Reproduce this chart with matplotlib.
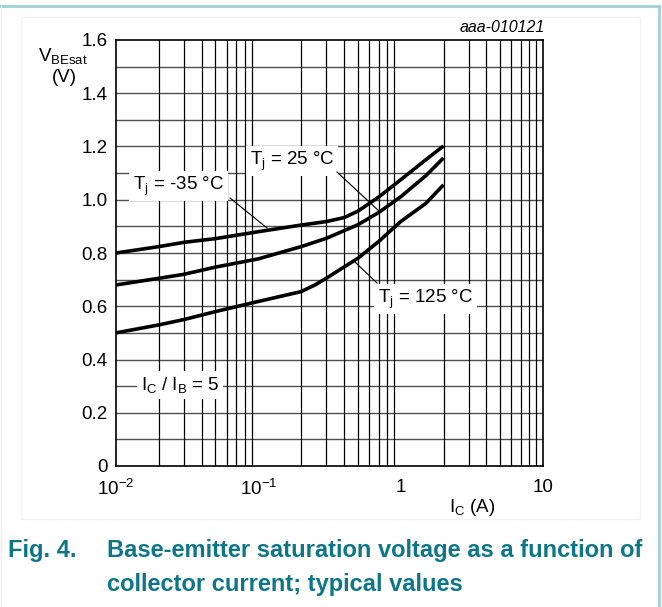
import numpy as np
import matplotlib
matplotlib.use("Agg")
import matplotlib.pyplot as plt
from matplotlib.patches import Rectangle
from matplotlib.ticker import NullFormatter

plt.rcParams['font.family'] = ['Liberation Sans', 'DejaVu Sans']
plt.rcParams['mathtext.fontset'] = 'custom'
plt.rcParams['mathtext.rm'] = 'Liberation Sans'
plt.rcParams['mathtext.it'] = 'Liberation Sans:italic'

# ---- data ----
ic_m35 = [0.01, 0.02, 0.03, 0.05, 0.1, 0.2, 0.3, 0.4, 0.5, 0.7, 1.0, 1.5, 2.0]
vbe_m35 = [0.80, 0.824, 0.84, 0.854, 0.88, 0.905, 0.918, 0.933, 0.957, 1.01, 1.075, 1.15, 1.202]

ic_25 = [0.01, 0.02, 0.03, 0.05, 0.1, 0.2, 0.3, 0.5, 0.7, 1.0, 1.5, 2.0]
vbe_25 = [0.68, 0.705, 0.72, 0.747, 0.778, 0.824, 0.855, 0.906, 0.952, 1.011, 1.09, 1.157]

ic_125 = [0.01, 0.02, 0.03, 0.05, 0.1, 0.2, 0.25, 0.3, 0.5, 0.7, 1.0, 1.5, 2.0]
vbe_125 = [0.50, 0.53, 0.55, 0.58, 0.618, 0.655, 0.68, 0.705, 0.78, 0.843, 0.918, 0.986, 1.056]

y_ticks = [0, 0.2, 0.4, 0.6, 0.8, 1.0, 1.2, 1.4, 1.6]
y_tick_labels = ["0", "0.2", "0.4", "0.6", "0.8", "1.0", "1.2", "1.4", "1.6"]
x_ticks = [0.01, 0.1, 1, 10]
x_tick_labels = ["$10^{-2}$", "$10^{-1}$", "1", "10"]

W, H = 662, 607
fig = plt.figure(figsize=(W / 100, H / 100), dpi=100)

L, R, T, B = 116, 543, 40, 466
ax = fig.add_axes([L / W, 1 - B / H, (R - L) / W, (B - T) / H])
ax.set_xscale('log')
ax.set_xlim(0.01, 10)
ax.set_ylim(0, 1.6)

for v in np.arange(0.1, 1.6, 0.1):
    ax.axhline(v, color='#505050', lw=1.0, zorder=1)
for dec in [0.01, 0.1, 1]:
    for m in range(2, 10):
        ax.axvline(dec * m, color='black', lw=0.9, zorder=1)

for xs, ys in [(ic_m35, vbe_m35), (ic_25, vbe_25), (ic_125, vbe_125)]:
    ax.plot(xs, ys, color='black', lw=2.6, zorder=3, solid_capstyle='butt')

for s in ax.spines.values():
    s.set_linewidth(1.2)
    s.set_color('black')

fs = 13.5
ax.set_yticks(y_ticks)
ax.set_yticklabels(y_tick_labels)
ax.set_xticks(x_ticks)
ax.set_xticklabels(x_tick_labels)
ax.xaxis.set_minor_formatter(NullFormatter())
ax.tick_params(axis='both', which='both', length=0, labelsize=fs, colors='black')
ax.tick_params(axis='x', pad=9)
ax.tick_params(axis='y', pad=6)

bbox = dict(facecolor='white', edgecolor='none', pad=2.5)

def px(x, y):
    return (x / W, 1 - y / H)

fig.text(*px(133, 186), r"T$_{\rm j}$ = -35 °C", fontsize=fs, ha='left', va='center', bbox=bbox, zorder=5)
fig.text(*px(250, 161), r"T$_{\rm j}$ = 25 °C", fontsize=fs, ha='left', va='center', bbox=bbox, zorder=5)
fig.text(*px(378, 299), r"T$_{\rm j}$ = 125 °C", fontsize=fs, ha='left', va='center', bbox=bbox, zorder=5)
fig.text(*px(141, 385), r"I$_{\rm C}$ / I$_{\rm B}$ = 5", fontsize=fs, ha='left', va='center', bbox=bbox, zorder=5)

for (x0, y0, x1, y1) in [(230, 198, 267, 228), (337, 172, 380, 212), (377, 283, 355, 262)]:
    fig.add_artist(plt.Line2D([x0 / W, x1 / W], [1 - y0 / H, 1 - y1 / H], color='black', lw=0.8, zorder=6))

fig.text(*px(63, 56), r"V$_{\rm BEsat}$", fontsize=fs, ha='center', va='center')
fig.text(*px(64, 78), "(V)", fontsize=fs, ha='center', va='center')
fig.text(*px(472, 507), r"I$_{\rm C}$ (A)", fontsize=fs, ha='center', va='center')
fig.text(*px(545, 27), "aaa-010121", fontsize=11.5, style='italic', ha='right', va='center')

cap_color = '#0d7689'
cfs = 17
fig.text(*px(8, 551), "Fig. 4.", fontsize=cfs, fontweight='bold', color=cap_color, ha='left', va='center')
fig.text(*px(107, 551), "Base-emitter saturation voltage as a function of", fontsize=cfs,
         fontweight='bold', color=cap_color, ha='left', va='center')
fig.text(*px(107, 585), "collector current; typical values", fontsize=cfs,
         fontweight='bold', color=cap_color, ha='left', va='center')

fig.add_artist(plt.Line2D([0, 1 - 3 / W], [1 - 6 / H, 1 - 6 / H], color='#9fd0dc', lw=2))
fig.add_artist(plt.Line2D([1 - 3 / W, 1 - 3 / W], [0, 1 - 6 / H], color='#9fd0dc', lw=2))
fig.add_artist(plt.Line2D([1 / W, 1 / W], [0, 1 - 6 / H], color='#eeeeee', lw=1))
fig.add_artist(Rectangle((21 / W, 1 - 519 / H), (640 - 21) / W, (519 - 17) / H,
                         transform=fig.transFigure, fill=False, edgecolor='#f2f2f2', lw=1))

fig.savefig("out.png", dpi=100)
